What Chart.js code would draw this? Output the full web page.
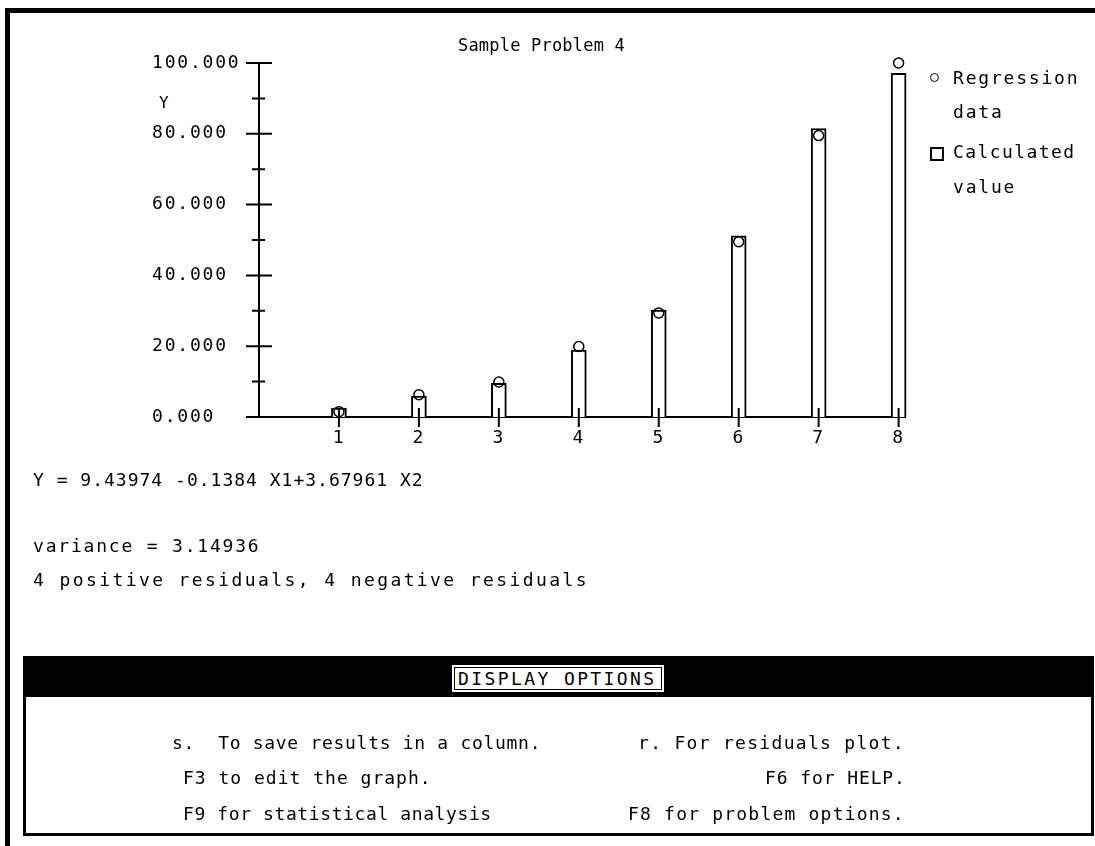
<!DOCTYPE html>
<html>
<head>
<meta charset="utf-8">
<title>Sample Problem 4</title>
<script src="https://cdn.jsdelivr.net/npm/chart.js@4.4.1/dist/chart.umd.min.js"></script>
<style>
  html, body { margin: 0; padding: 0; background: #fff; }
  body {
    width: 1095px; height: 846px; position: relative; overflow: hidden;
    font-family: "DejaVu Sans Mono", monospace; font-size: 18px; color: #000;
  }
  #chart { position: absolute; left: 0; top: 0; }
  .txt { position: absolute; white-space: pre; line-height: 18px; }

  /* screen frame: only top and left edges are visible */
  #frame {
    position: absolute; left: 5px; top: 8px; right: -20px; bottom: -20px;
    border-top: 5px solid #000; border-left: 5px solid #000;
  }

  /* display options panel */
  #options {
    position: absolute; left: 23px; top: 656px; width: 1071px; height: 180px;
    box-sizing: border-box; border: 3px solid #000; border-top-width: 41px;
  }
  #optLabel {
    position: absolute; left: 452px; top: 665px; width: 212px; height: 27px;
    background: #fff; box-shadow: inset 0 0 0 2px #fff, inset 0 0 0 3px #000;
  }

  /* legend markers */
  #mkCircle {
    position: absolute; left: 930px; top: 73px; width: 7px; height: 7px;
    border: 1.5px solid #000; border-radius: 50%;
  }
  #mkSquare {
    position: absolute; left: 930px; top: 147px; width: 10px; height: 10px;
    border: 2px solid #000;
  }
</style>
</head>
<body>
<div id="frame"></div>
<canvas id="chart" width="1095" height="846"></canvas>

<div class="txt" style="left:458px; top:36px; font-size:17px; letter-spacing:0.2px;">Sample Problem 4</div>
<div class="txt" style="left:159px; top:94px; font-size:16px;">Y</div>

<div id="mkCircle"></div>
<div class="txt" style="left:953px; top:69px; letter-spacing:1.8px;">Regression</div>
<div class="txt" style="left:953px; top:103px; letter-spacing:1.8px;">data</div>
<div id="mkSquare"></div>
<div class="txt" style="left:953px; top:143px; letter-spacing:1.4px;">Calculated</div>
<div class="txt" style="left:953px; top:178px; letter-spacing:1.8px;">value</div>

<div class="txt" style="left:33px; top:471px; letter-spacing:1px;">Y = 9.43974 -0.1384 X1+3.67961 X2</div>
<div class="txt" style="left:33px; top:537px; letter-spacing:1.8px;">variance = 3.14936</div>
<div class="txt" style="left:33px; top:571px; letter-spacing:2.4px;">4 positive residuals, 4 negative residuals</div>

<div id="options"></div>
<div id="optLabel"></div>
<div class="txt" style="left:458px; top:670px; letter-spacing:2.4px;">DISPLAY OPTIONS</div>
<div class="txt" style="left:172px; top:734px; letter-spacing:0.7px;">s.  To save results in a column.</div>
<div class="txt" style="left:638px; top:734px; letter-spacing:1.3px;">r. For residuals plot.</div>
<div class="txt" style="left:183px; top:769px; letter-spacing:1px;">F3 to edit the graph.</div>
<div class="txt" style="left:765px; top:769px; letter-spacing:0.9px;">F6 for HELP.</div>
<div class="txt" style="left:183px; top:805px; letter-spacing:0.6px;">F9 for statistical analysis</div>
<div class="txt" style="left:628px; top:805px; letter-spacing:1.2px;">F8 for problem options.</div>

<script>
// Observation number on the x axis
const xCats = [1, 2, 3, 4, 5, 6, 7, 8];
// Measured Y (circles)
const regressionData = [1.5, 6.3, 9.9, 19.9, 29.4, 49.5, 79.5, 100.0];
// Fitted Y (bars)
const calculatedValue = [2.5, 5.9, 9.5, 18.9, 30.2, 51.2, 81.5, 97.1];
// Y axis ticks
const yTicks = [0, 20, 40, 60, 80, 100];
const yMinorTicks = [10, 30, 50, 70, 90];

const black = '#000';
const tickFont = { family: '"DejaVu Sans Mono", monospace', size: 18 };

// wider glyph spacing for the canvas tick labels
const textSpacing = {
  id: 'textSpacing',
  beforeDraw(chart) {
    chart.ctx.letterSpacing = '1.8px';
  }
};

// tick marks that cross the axis lines
const axisTicks = {
  id: 'axisTicks',
  afterDatasetsDraw(chart) {
    const { ctx, chartArea, scales: { x, y } } = chart;
    const x0 = chartArea.left;
    const y0 = chartArea.bottom;
    ctx.save();
    ctx.strokeStyle = black;
    ctx.lineWidth = 2;
    ctx.beginPath();
    yTicks.forEach(v => {
      const py = y.getPixelForValue(v);
      ctx.moveTo(x0 - 13, py);
      ctx.lineTo(x0 + 13, py);
    });
    yMinorTicks.forEach(v => {
      const py = y.getPixelForValue(v);
      ctx.moveTo(x0 - 7, py);
      ctx.lineTo(x0 + 6, py);
    });
    xCats.forEach(v => {
      const px = x.getPixelForValue(v);
      ctx.moveTo(px, y0 - 9);
      ctx.lineTo(px, y0 + 10);
    });
    ctx.stroke();
    ctx.restore();
  }
};

new Chart(document.getElementById('chart'), {
  data: {
    datasets: [
      {
        type: 'bar',
        label: 'Calculated value',
        order: 2,
        data: xCats.map((x, i) => ({ x, y: calculatedValue[i] })),
        clip: false,
        backgroundColor: '#fff',
        borderColor: black,
        borderWidth: 2,
        barThickness: 15
      },
      {
        type: 'scatter',
        label: 'Regression data',
        order: 1,
        data: xCats.map((x, i) => ({ x, y: regressionData[i] })),
        clip: false,
        pointStyle: 'circle',
        pointRadius: 5,
        pointBorderWidth: 1.5,
        pointBorderColor: black,
        pointBackgroundColor: 'rgba(0,0,0,0)'
      }
    ]
  },
  options: {
    responsive: false,
    animation: false,
    events: [],
    layout: { padding: { left: 152, top: 63, right: 190, bottom: 389 } },
    plugins: {
      legend: { display: false },
      tooltip: { enabled: false },
      title: { display: false }
    },
    scales: {
      x: {
        type: 'linear',
        min: 0,
        max: 8.08,
        offset: false,
        grid: { display: false, drawTicks: false },
        border: { display: true, color: black, width: 2 },
        afterBuildTicks: s => { s.ticks = xCats.map(v => ({ value: v })); },
        afterFit: s => { s.height = 40; },
        ticks: {
          color: black,
          font: tickFont,
          padding: 11,
          maxRotation: 0,
          callback: v => String(v)
        }
      },
      y: {
        min: 0,
        max: 100,
        grid: { display: false, drawTicks: false },
        border: { display: true, color: black, width: 2 },
        afterBuildTicks: s => { s.ticks = yTicks.map(v => ({ value: v })); },
        afterFit: s => { s.width = 107; },
        ticks: {
          color: black,
          font: tickFont,
          crossAlign: 'far',
          callback: v => v.toFixed(3)
        }
      }
    }
  },
  plugins: [textSpacing, axisTicks]
});
</script>
</body>
</html>
